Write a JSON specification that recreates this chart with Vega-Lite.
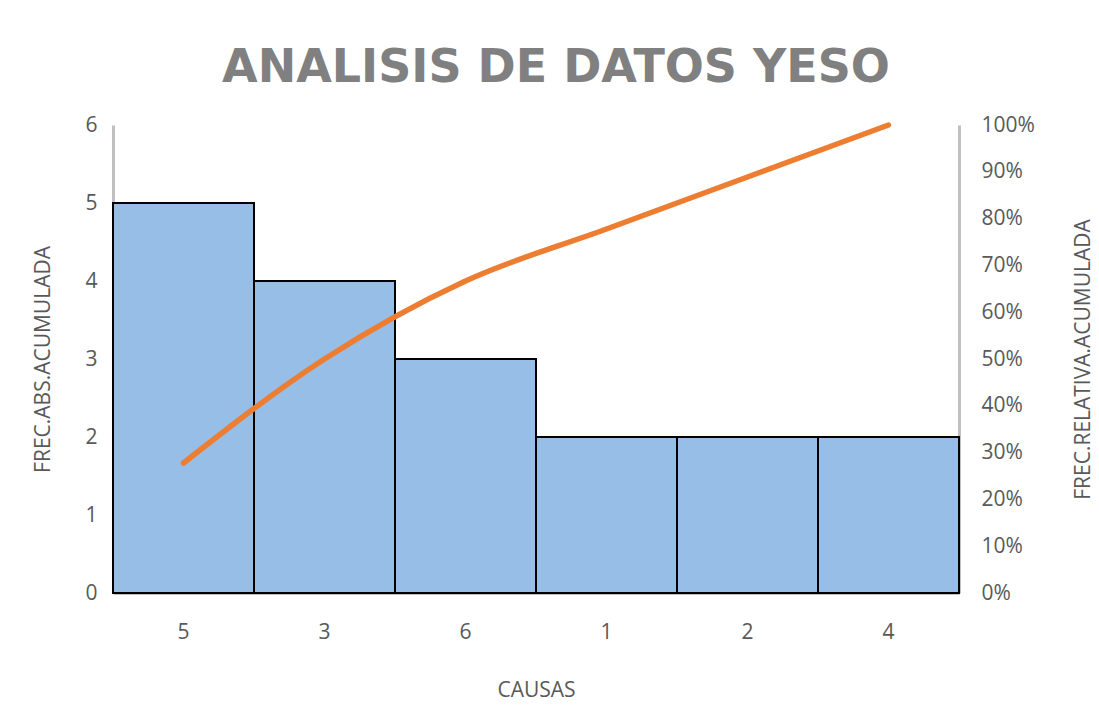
{
  "$schema": "https://vega.github.io/schema/vega-lite/v6.json",
  "autosize": {"type": "none"},
  "padding": {"left": 113, "top": 125, "right": 140, "bottom": 120},
  "width": 846,
  "height": 468,
  "background": "white",
  "config": {
    "font": "Open Sans",
    "view": {"stroke": null}
  },
  "title": {
    "text": "ANALISIS DE DATOS YESO",
    "font": "DejaVu Sans",
    "fontSize": 46,
    "fontWeight": "bold",
    "color": "#808080",
    "anchor": "middle",
    "dx": 20,
    "offset": 22
  },
  "data": {
    "values": [
      {"causa": "5", "frec": 5, "acum": 0.2778},
      {"causa": "3", "frec": 4, "acum": 0.5},
      {"causa": "6", "frec": 3, "acum": 0.6667},
      {"causa": "1", "frec": 2, "acum": 0.7778},
      {"causa": "2", "frec": 2, "acum": 0.8889},
      {"causa": "4", "frec": 2, "acum": 1.0}
    ]
  },
  "encoding": {
    "x": {
      "field": "causa",
      "type": "nominal",
      "sort": null,
      "scale": {"paddingInner": 0, "paddingOuter": 0},
      "axis": {
        "title": "CAUSAS",
        "labelAngle": 0,
        "labelFontSize": 21,
        "labelColor": "#595959",
        "labelPadding": 28,
        "ticks": false,
        "domainColor": "#c0c0c0",
        "domainWidth": 3,
        "titleFontSize": 21,
        "titleFontWeight": "normal",
        "titleColor": "#595959",
        "titlePadding": 37
      }
    }
  },
  "layer": [
    {
      "mark": {"type": "bar", "color": "#97bee6", "stroke": "#000000", "strokeWidth": 2},
      "encoding": {
        "y": {
          "field": "frec",
          "type": "quantitative",
          "scale": {"domain": [0, 6]},
          "axis": {
            "title": "FREC.ABS.ACUMULADA",
            "values": [0, 1, 2, 3, 4, 5, 6],
            "grid": false,
            "ticks": false,
            "domainColor": "#c0c0c0",
            "domainWidth": 3,
            "labelFontSize": 21,
            "labelColor": "#595959",
            "labelPadding": 16,
            "titleFontSize": 21,
            "titleFontWeight": "normal",
            "titleColor": "#595959",
            "titlePadding": 31
          }
        }
      }
    },
    {
      "mark": {"type": "line", "color": "#ED7D31", "strokeWidth": 5.5, "interpolate": "monotone", "strokeCap": "round"},
      "encoding": {
        "y": {
          "field": "acum",
          "type": "quantitative",
          "scale": {"domain": [0, 1]},
          "axis": {
            "orient": "right",
            "title": "FREC.RELATIVA.ACUMULADA",
            "titleAngle": 270,
            "format": ".0%",
            "values": [0, 0.1, 0.2, 0.3, 0.4, 0.5, 0.6, 0.7, 0.8, 0.9, 1.0],
            "grid": false,
            "ticks": false,
            "domainColor": "#c0c0c0",
            "domainWidth": 3,
            "labelFontSize": 21,
            "labelColor": "#595959",
            "labelPadding": 22,
            "titleFontSize": 21,
            "titleFontWeight": "normal",
            "titleColor": "#595959",
            "titlePadding": 59
          }
        }
      }
    }
  ],
  "resolve": {"scale": {"y": "independent"}}
}
